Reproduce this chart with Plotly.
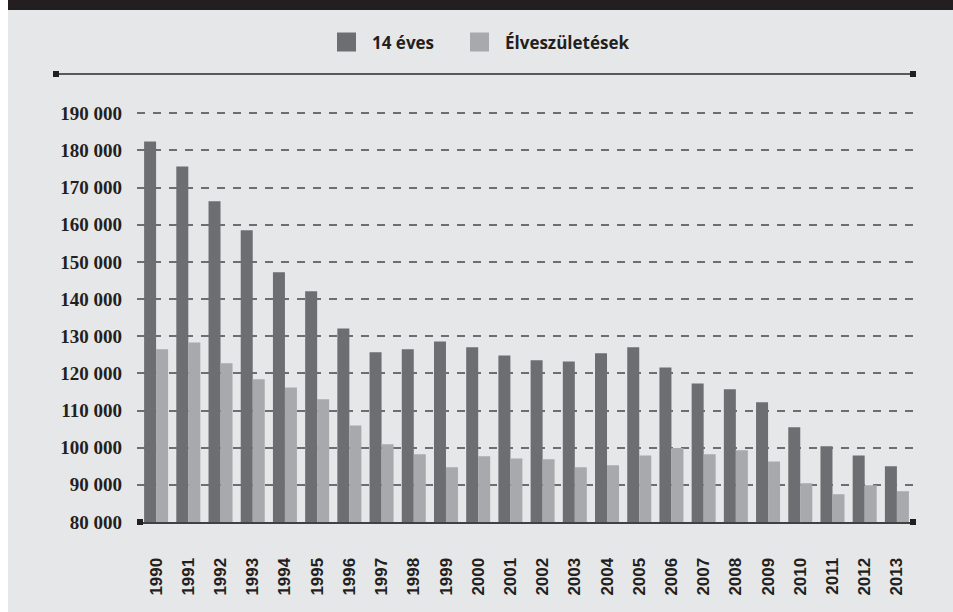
import plotly.graph_objects as go

years = [str(y) for y in range(1990, 2014)]
age14 = [182400, 175700, 166300, 158500, 147200, 142100, 132100, 125700, 126500, 128600,
         127000, 124800, 123500, 123200, 125400, 127000, 121600, 117300, 115700, 112200,
         105500, 100400, 97900, 95000]
births = [126500, 128300, 122700, 118400, 116200, 113000, 106000, 100900, 98200, 94700,
          97700, 97100, 96900, 94700, 95300, 97900, 99900, 98200, 99300, 96300,
          90400, 87500, 89900, 88300]
series_names = ["14 éves", "Élveszületések"]
series_colors = ["#6d6e71", "#a7a9ac"]
ytick_vals = list(range(80000, 190001, 10000))
ytick_text = [f"{v:,}".replace(",", " ") for v in ytick_vals]

W, H = 953, 612
L, R, T, B = 137, 37, 105, 90
PW = W - L - R
PH = H - T - B
PLOT_BOTTOM = H - B

def px(x):
    return (x - L) / PW

def py(y):
    return (PLOT_BOTTOM - y) / PH

fig = go.Figure()
fig.add_trace(go.Bar(x=years, y=age14, name=series_names[0], marker_color=series_colors[0],
                     marker_line_width=0, showlegend=False))
fig.add_trace(go.Bar(x=years, y=births, name=series_names[1], marker_color=series_colors[1],
                     marker_line_width=0, showlegend=False))

shapes = []
# panel background with white strip on the left
shapes.append(dict(type="rect", xref="paper", yref="paper", x0=px(8), x1=px(W + 5),
                   y0=py(H + 5), y1=py(-5), fillcolor="#e6e7e8", line_width=0, layer="below"))
# dark top bar
shapes.append(dict(type="rect", xref="paper", yref="paper", x0=px(8), x1=px(W + 5),
                   y0=py(10), y1=py(-5), fillcolor="#231f20", line_width=0, layer="below"))
# top horizontal rule
shapes.append(dict(type="line", xref="paper", yref="paper", x0=px(56), x1=px(913),
                   y0=py(74), y1=py(74), line=dict(color="#58595b", width=2), layer="below"))
# end squares
for cx, cy in [(56, 74), (913, 74), (140, 522), (913, 522)]:
    shapes.append(dict(type="rect", xref="paper", yref="paper", x0=px(cx - 3), x1=px(cx + 3),
                       y0=py(cy + 3), y1=py(cy - 3), fillcolor="#231f20", line_width=0,
                       layer="above"))
# legend squares
leg_x = [337, 470]
for lx, col in zip(leg_x, series_colors):
    shapes.append(dict(type="rect", xref="paper", yref="paper", x0=px(lx), x1=px(lx + 19),
                       y0=py(51.5), y1=py(32.5), fillcolor=col, line_width=0, layer="above"))

annotations = []
for lx, name in zip(leg_x, series_names):
    annotations.append(dict(xref="paper", yref="paper", x=px(lx + 33), y=py(42),
                            text=name, showarrow=False, xanchor="left", yanchor="middle",
                            font=dict(family="Open Sans", size=17, color="#231f20", weight="bold")))

fig.update_layout(
    width=W, height=H,
    margin=dict(l=L, r=R, t=T, b=B, pad=0),
    paper_bgcolor="#ffffff",
    plot_bgcolor="rgba(0,0,0,0)",
    barmode="group",
    bargap=0.255,
    bargroupgap=0,
    shapes=shapes,
    annotations=annotations,
    showlegend=False,
    xaxis=dict(
        type="category",
        range=[-0.5 - 3 / 32.2, 23.5 + 3 / 32.2],
        showline=True, linecolor="#414042", linewidth=2,
        showgrid=False, ticks="",
        tickangle=-90,
        ticklabelstandoff=27,
        tickfont=dict(family="Liberation Sans", size=17, color="#231f20", weight="bold"),
        fixedrange=True,
    ),
    yaxis=dict(
        range=[80000, 80000 + PH / 37.16 * 10000],
        tickvals=ytick_vals, ticktext=ytick_text,
        showgrid=True, gridcolor="#6d6e71", gridwidth=1.5, griddash="8px,8px",
        zeroline=False, showline=False, ticks="",
        ticklabelstandoff=14,
        tickfont=dict(family="Liberation Serif", size=19, color="#231f20", weight="bold"),
        fixedrange=True,
    ),
)

fig.write_html("out.html", config={"displayModeBar": False},
               post_script="document.body.style.margin='0';document.body.style.overflow='hidden';")
